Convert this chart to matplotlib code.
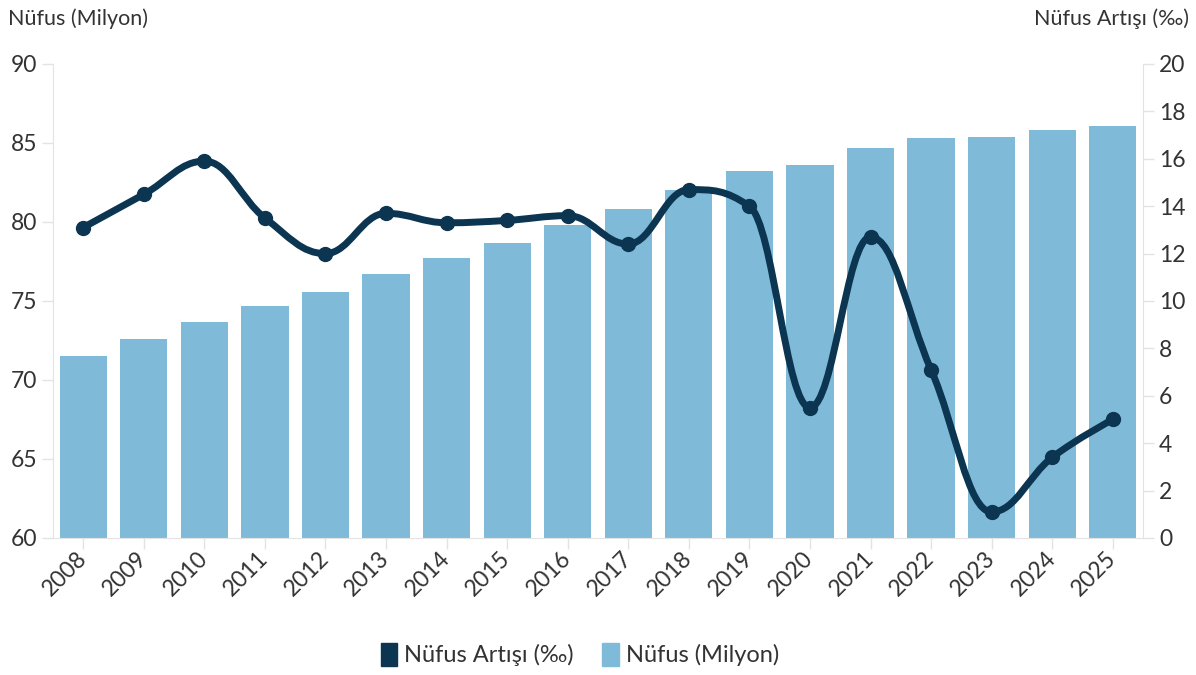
import numpy as np
import matplotlib.pyplot as plt
from matplotlib.path import Path
from matplotlib.patches import PathPatch, Patch

plt.rcParams['font.family'] = ['Lato', 'DejaVu Sans']

years = [str(y) for y in range(2008, 2026)]
nufus = [71.5, 72.6, 73.7, 74.7, 75.6, 76.7, 77.7, 78.7, 79.8,
         80.8, 82.0, 83.2, 83.6, 84.7, 85.3, 85.4, 85.8, 86.1]
artis = [13.1, 14.5, 15.9, 13.5, 12.0, 13.7, 13.3, 13.4, 13.6,
         12.4, 14.7, 14.0, 5.5, 12.7, 7.1, 1.1, 3.4, 5.0]

BAR = '#7fbbd9'
LINE = '#0b3550'
GRID = '#e3e3e3'
TXT = '#333333'


def spline_path(xs, ys, s=1.5):
    # highcharts-like spline: bezier control points around every point
    n = len(xs)
    lc = [(xs[i], ys[i]) for i in range(n)]
    rc = [(xs[i], ys[i]) for i in range(n)]
    for i in range(1, n - 1):
        x, y = xs[i], ys[i]
        px, py, nx, ny = xs[i - 1], ys[i - 1], xs[i + 1], ys[i + 1]
        lx, ly = (s * x + px) / (s + 1), (s * y + py) / (s + 1)
        rx, ry = (s * x + nx) / (s + 1), (s * y + ny) / (s + 1)
        corr = (ry - ly) * (rx - x) / (rx - lx) + y - ry
        ly += corr
        ry += corr
        if ly > py and ly > y:
            ly = max(py, y); ry = 2 * y - ly
        elif ly < py and ly < y:
            ly = min(py, y); ry = 2 * y - ly
        if ry > ny and ry > y:
            ry = max(ny, y); ly = 2 * y - ry
        elif ry < ny and ry < y:
            ry = min(ny, y); ly = 2 * y - ry
        lc[i] = (lx, ly)
        rc[i] = (rx, ry)
    verts = [(xs[0], ys[0])]
    codes = [Path.MOVETO]
    for i in range(1, n):
        verts += [rc[i - 1], lc[i], (xs[i], ys[i])]
        codes += [Path.CURVE4] * 3
    return Path(verts, codes)


fig = plt.figure(figsize=(11.96, 6.75), dpi=100)
ax = fig.add_axes([0.0443, 0.203, 0.9114, 0.7022])
ax2 = ax.twinx()

x = np.arange(len(years))
ax.bar(x, [v - 60 for v in nufus], bottom=60, width=0.78, color=BAR, zorder=2)
ax.set_ylim(60, 90)
ax.set_xlim(-0.5, len(years) - 0.5)
ax.set_yticks(range(60, 91, 5))
ax.set_xticks(x)
ax.set_xticklabels(years, rotation=45, ha='right', va='center', rotation_mode='anchor')

ax2.set_ylim(0, 20)
ax2.set_yticks(range(0, 21, 2))
ax2.add_patch(PathPatch(spline_path(list(x), artis), fill=False, edgecolor=LINE,
                        lw=5, capstyle='round', joinstyle='round', zorder=3))
ax2.plot(x, artis, 'o', color=LINE, ms=10, zorder=4)

for a in (ax, ax2):
    for sp in a.spines.values():
        sp.set_visible(False)
    a.tick_params(colors=GRID, labelcolor=TXT, labelsize=16.5, length=8, width=1)
ax.spines['left'].set_visible(True)
ax.spines['left'].set_color(GRID)
ax2.spines['right'].set_visible(True)
ax2.spines['right'].set_color(GRID)
ax.spines['bottom'].set_visible(True)
ax.spines['bottom'].set_color(GRID)
ax.tick_params(axis='x', pad=4, labelsize=16.5)

fig.text(0.007, 0.973, 'Nüfus (Milyon)', fontsize=15.5, color=TXT, va='center', ha='left')
fig.text(0.994, 0.973, 'Nüfus Artışı (‰)', fontsize=15.5, color=TXT, va='center', ha='right')

handles = [Patch(facecolor=LINE, edgecolor=LINE), Patch(facecolor=BAR, edgecolor=BAR)]
fig.legend(handles, ['Nüfus Artışı (‰)', 'Nüfus (Milyon)'], loc='center',
           bbox_to_anchor=(0.485, 0.03), ncol=2, frameon=False, fontsize=17,
           handlelength=0.7, handleheight=1.1, handletextpad=0.3, columnspacing=1.2,
           labelcolor=TXT)

fig.savefig('out.png', dpi=100)
